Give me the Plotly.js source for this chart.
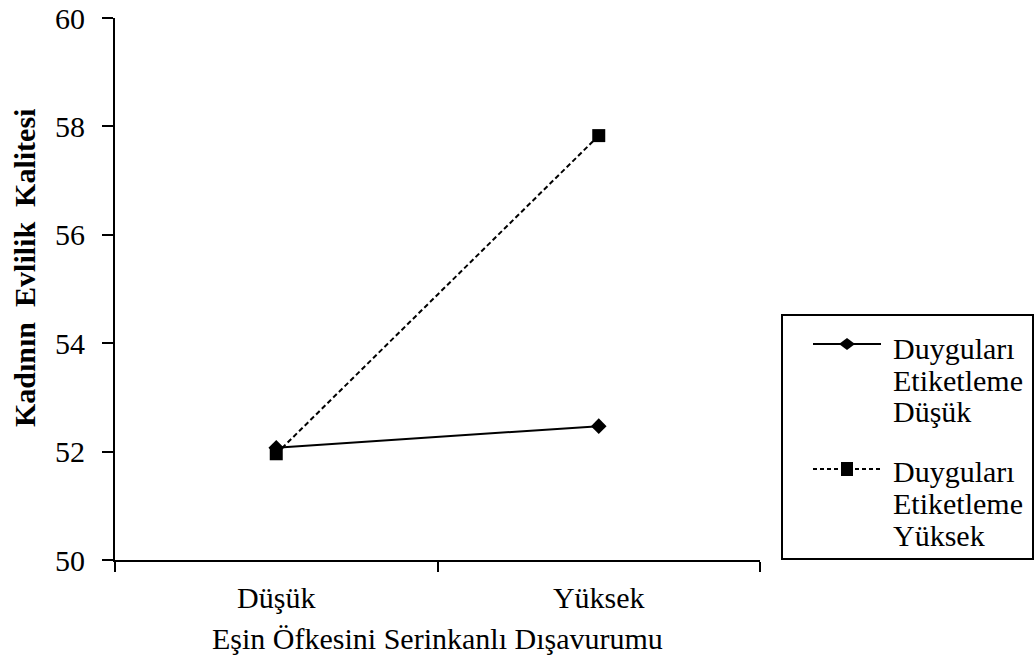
<!DOCTYPE html>
<html>
<head>
<meta charset="utf-8">
<script src="https://cdn.plot.ly/plotly-3.0.1.min.js"></script>
<style>html,body{margin:0;padding:0;background:#fff;}#chart{width:1035px;height:662px;}</style>
</head>
<body>
<div id="chart"></div>
<script>
// ---- data ----
const categories = ["Düşük", "Yüksek"];
const seriesNames = ["Duyguları Etiketleme Düşük", "Duyguları Etiketleme Yüksek"];
const legendLines = [["Duyguları", "Etiketleme", "Düşük"], ["Duyguları", "Etiketleme", "Yüksek"]];
const lowLabeling = [52.07, 52.47];
const highLabeling = [51.96, 57.83];
const yTicks = [50, 52, 54, 56, 58, 60];
const xTitle = "Eşin Öfkesini Serinkanlı Dışavurumu";
const yTitle = "Kadının \u00a0Evlilik \u00a0Kalitesi";

// ---- styling ----
const FONT = "Liberation Serif";
const F = function (sz) { return {family: FONT, size: sz, color: "#000000"}; };
const PL = 115, PR = 760, PT = 18, PB = 560;
const X = p => (p - PL) / (PR - PL);
const Y = p => (PB - p) / (PB - PT);

const traces = [
  {
    x: categories, y: lowLabeling, name: seriesNames[0], type: "scatter", mode: "lines+markers",
    line: {color: "#000", width: 2, dash: "solid"},
    marker: {symbol: "diamond", size: 12, color: "#000"}
  },
  {
    x: categories, y: highLabeling, name: seriesNames[1], type: "scatter", mode: "lines+markers",
    line: {color: "#000", width: 2, dash: "5px,3px"},
    marker: {symbol: "square", size: 13, color: "#000"}
  }
];

// ---- manual legend (box, sample lines, symbols, text) ----
const shapes = [];
const annotations = [];
shapes.push({type: "rect", xref: "paper", yref: "paper", x0: X(782), x1: X(1033), y0: Y(559), y1: Y(315),
  line: {color: "#000", width: 2}, fillcolor: "rgba(0,0,0,0)"});
const symY = [344, 469];
const textBase = [[358, 390, 422], [481, 513, 545]];
const dashes = ["solid", "4px,3px"];
for (let i = 0; i < 2; i++) {
  shapes.push({type: "line", xref: "paper", yref: "paper", x0: X(813), x1: X(881), y0: Y(symY[i]), y1: Y(symY[i]),
    line: {color: "#000", width: 2, dash: dashes[i]}});
  const cx = 847, cy = symY[i];
  let path;
  if (i === 0) {
    path = `M ${X(cx - 8)},${Y(cy)} L ${X(cx)},${Y(cy - 6)} L ${X(cx + 8)},${Y(cy)} L ${X(cx)},${Y(cy + 6)} Z`;
  } else {
    path = `M ${X(cx - 6)},${Y(cy - 7)} L ${X(cx + 6)},${Y(cy - 7)} L ${X(cx + 6)},${Y(cy + 7)} L ${X(cx - 6)},${Y(cy + 7)} Z`;
  }
  shapes.push({type: "path", xref: "paper", yref: "paper", path: path, fillcolor: "#000", line: {color: "#000", width: 0}});
  legendLines[i].forEach((t, j) => {
    annotations.push({text: t, xref: "paper", yref: "paper", x: X(891), y: Y(textBase[i][j] - 10),
      xanchor: "left", yanchor: "middle", showarrow: false, font: F(30)});
  });
}
// axis titles as annotations
annotations.push({text: "<b>" + yTitle + "</b>", xref: "paper", yref: "paper", x: X(24), y: Y(268),
  xanchor: "center", yanchor: "middle", textangle: -90, showarrow: false, font: F(30)});
annotations.push({text: xTitle, xref: "paper", yref: "paper", x: 0.5, y: Y(638),
  xanchor: "center", yanchor: "middle", showarrow: false, font: F(30)});

const layout = {
  width: 1035, height: 662,
  margin: {l: PL, r: 1035 - PR, t: PT, b: 662 - PB},
  paper_bgcolor: "#fff", plot_bgcolor: "#fff",
  font: F(30),
  showlegend: false,
  xaxis: {
    type: "category", range: [-0.5, 1.5], tickson: "boundaries",
    ticks: "outside", ticklen: 10, tickwidth: 2, tickcolor: "#000",
    showline: true, linecolor: "#000", linewidth: 2, showgrid: false, zeroline: false,
    tickfont: F(30), ticklabelstandoff: 10
  },
  yaxis: {
    range: [50, 60], tickvals: yTicks, ticktext: yTicks.map(String),
    ticks: "outside", ticklen: 11, tickwidth: 2, tickcolor: "#000",
    showline: true, linecolor: "#000", linewidth: 2, showgrid: false, zeroline: false,
    tickfont: F(30), ticklabelstandoff: 11
  },
  shapes: shapes,
  annotations: annotations
};

Plotly.newPlot("chart", traces, layout, {displayModeBar: false, staticPlot: true});
</script>
</body>
</html>
